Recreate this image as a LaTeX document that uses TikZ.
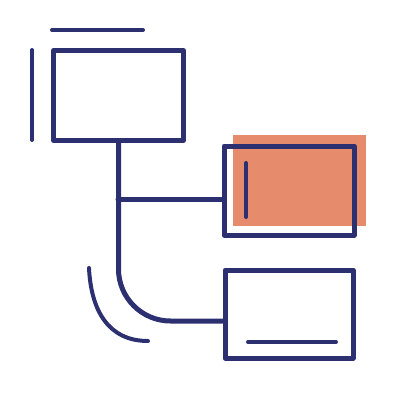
\documentclass[tikz,border=0pt]{standalone}
\usepackage{xcolor}
\usepackage{tikz}
\usetikzlibrary{positioning, calc}
\definecolor{ink}{HTML}{2C3070}
\definecolor{accent}{HTML}{E68C6C}

\begin{document}
\begin{tikzpicture}[x=1pt,y=-1pt,line cap=round,line join=round]
	\tikzstyle{card} = [draw=ink,line width=5pt,minimum width=130pt,minimum height=90pt,inner sep=0pt]
	\tikzstyle{stroke} = [draw=ink,line width=4pt]
	\useasboundingbox (0,0) rectangle (400,400);
	\node[fill=accent,minimum width=133pt,minimum height=91pt,inner sep=0pt] (shade) at (299.5,180.5) {};
	\node[card]									(top)	at (118.5,95.5)	{};
	\node[card,minimum height=89pt]				(mid)	at (289,190.5)	{};
	\node[card,minimum width=128pt,minimum height=88pt]	(bot)	at (289,314)	{};
	\coordinate (fork) at (118,199);
	% tree connectors
	\draw[ink,line width=5pt] (fork) -- (fork -| mid.west);
	\draw[ink,line width=5pt,rounded corners=52pt] (top.south) |- ($(bot.west)+(0,7)$);
	% loose strokes
	\draw[stroke] (52,30) -- (143,30);
	\draw[stroke] (32,50) -- (32,140);
	\draw[stroke] (246,163) -- (246,217);
	\draw[stroke] (248,342) -- (336,342);
	\draw[stroke] (89,268) .. controls (91,310) and (108,341) .. (148,341);
\end{tikzpicture}
\end{document}
